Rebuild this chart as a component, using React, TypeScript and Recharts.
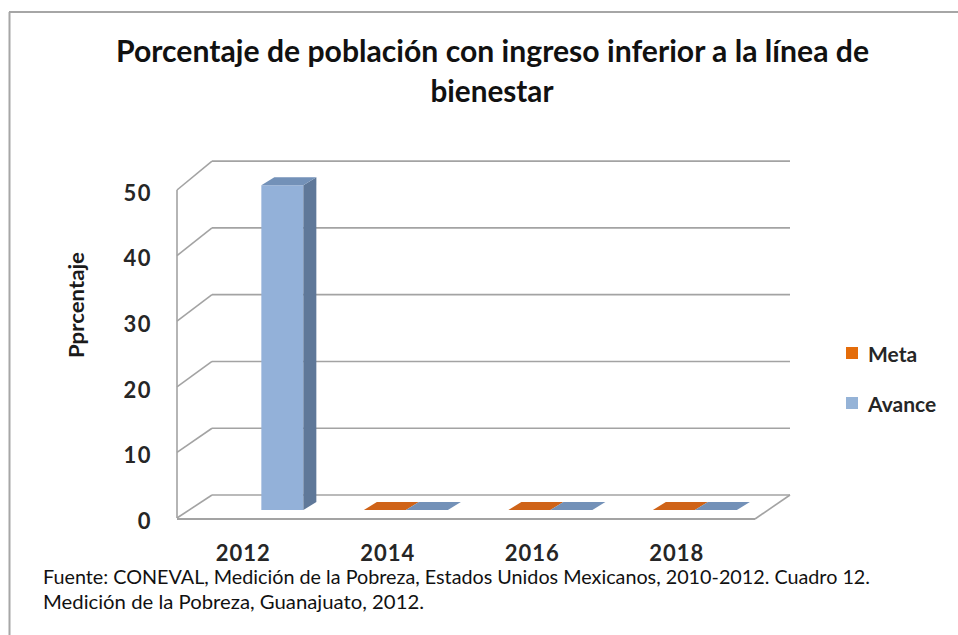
import React from 'react';
import { BarChart, Bar, XAxis, YAxis, CartesianGrid, Legend } from 'recharts';

const categories = ['2012', '2014', '2016', '2018'];
const metaValues: (number | null)[] = [null, 0, 0, 0];
const avanceValues: (number | null)[] = [49.5, 0, 0, 0];
const yTicks = [0, 10, 20, 30, 40, 50];
const legendOrder = ['Meta', 'Avance'];

const data = categories.map((c, i) => ({ year: c, meta: metaValues[i], avance: avanceValues[i] }));

const W = 958;
const H = 635;
const PLOT_LEFT = 177;
const PLOT_TOP = 190;
const PLOT_RIGHT = 755;
const PLOT_BOTTOM = 518;
const BACK_DX = 35;
const BACK_BOTTOM = 495;
const PERSP = 1.018;
const BAR_DX = 12;
const BAR_DY = -8;
const DEPTH_X = 13;
const DEPTH_Y = 8;
const GRID = '#a3a3a3';
const FONT = 'Lato, "Open Sans", sans-serif';

const makeShape = (key: string, front: string, side: string, top: string) => (props: any) => {
  const { x, y, width, height, payload } = props;
  if (!payload || payload[key] == null) return <g />;
  const X = x + BAR_DX;
  const Y = y + BAR_DY;
  const w = width;
  const h = Math.max(0, height);
  return (
    <g>
      {h > 0 && <rect x={X} y={Y} width={w} height={h} fill={front} />}
      {h > 0 && (
        <polygon
          points={`${X + w},${Y} ${X + w + DEPTH_X},${Y - DEPTH_Y} ${X + w + DEPTH_X},${Y + h - DEPTH_Y} ${X + w},${Y + h}`}
          fill={side}
        />
      )}
      <polygon
        points={`${X},${Y} ${X + DEPTH_X},${Y - DEPTH_Y} ${X + w + DEPTH_X},${Y - DEPTH_Y} ${X + w},${Y}`}
        fill={top}
      />
    </g>
  );
};

const gridLine = (p: any) => {
  const { x1, x2, y1, index } = p;
  const backY = BACK_BOTTOM - (PLOT_BOTTOM - y1) * PERSP;
  const bx1 = x1 + BACK_DX;
  const bx2 = x2 + BACK_DX;
  const isBottom = Math.abs(y1 - PLOT_BOTTOM) < 1;
  return (
    <g key={`grid-${index}-${y1}`} stroke={GRID} strokeWidth={1.6} fill="none">
      <line x1={x1} y1={y1} x2={bx1} y2={backY} />
      <line x1={bx1} y1={backY} x2={bx2} y2={backY} />
      {isBottom && <line x1={x1} y1={y1 + 1} x2={x2} y2={y1 + 1} strokeWidth={2} />}
      {isBottom && <line x1={x2} y1={y1 + 1} x2={bx2} y2={backY} />}
    </g>
  );
};

const YTick = (props: any) => {
  const { x, y, payload } = props;
  return (
    <text x={x} y={y + 3} dy="0.35em" textAnchor="end" fontFamily={FONT} fontWeight={700} fontSize={22} letterSpacing={1.5} fill="#262626">
      {payload.value}
    </text>
  );
};

const XTick = (props: any) => {
  const { x, y, payload } = props;
  return (
    <text x={x - 6} y={y + 35} dy="0.35em" textAnchor="middle" fontFamily={FONT} fontWeight={700} fontSize={22} letterSpacing={1} fill="#262626">
      {payload.value}
    </text>
  );
};

const LegendContent = (props: any) => {
  const items = [...(props.payload || [])].sort(
    (a: any, b: any) => legendOrder.indexOf(a.value) - legendOrder.indexOf(b.value)
  );
  return (
    <div style={{ fontFamily: FONT }}>
      {items.map((it: any, i: number) => (
        <div key={i} style={{ display: 'flex', alignItems: 'center', height: 26, marginBottom: i === 0 ? 24 : 0 }}>
          <span style={{ display: 'inline-block', width: 12, height: 12, background: it.color, marginRight: 10 }} />
          <span style={{ fontSize: 21, fontWeight: 700, color: '#262626' }}>{it.value}</span>
        </div>
      ))}
    </div>
  );
};

export default function App() {
  return (
    <div style={{ position: 'absolute', left: 0, top: 0, width: W, height: H, background: '#fff' }}>
      <BarChart
        width={W}
        height={H}
        data={data}
        margin={{ top: PLOT_TOP, right: W - PLOT_RIGHT, bottom: H - PLOT_BOTTOM - 40, left: 0 }}
        barCategoryGap="21%"
        barGap={0}
      >
        <CartesianGrid vertical={false} horizontal={gridLine} />
        <XAxis dataKey="year" axisLine={false} tickLine={false} tickSize={0} tickMargin={0} height={40} tick={<XTick />} interval={0} />
        <YAxis
          domain={[0, 50]}
          ticks={yTicks}
          width={PLOT_LEFT}
          axisLine={{ stroke: GRID, strokeWidth: 1.6 }}
          tickLine={false}
          tickSize={0}
          tickMargin={25}
          tick={<YTick />}
          interval={0}
        />
        <Legend
          layout="vertical"
          align="center"
          verticalAlign="middle"
          content={<LegendContent />}
          wrapperStyle={{ left: 846, top: 340, width: 112 }}
        />
        <Bar dataKey="meta" name="Meta" fill="#e46c0a" isAnimationActive={false} shape={makeShape('meta', '#e46c0a', '#a94f08', '#cf6318')} />
        <Bar dataKey="avance" name="Avance" fill="#95b3d7" isAnimationActive={false} shape={makeShape('avance', '#93b1d9', '#5f7899', '#7391b8')} />
      </BarChart>
      <svg width={W} height={H} style={{ position: 'absolute', left: 0, top: 0, pointerEvents: 'none' }}>
        <line x1={9.5} y1={12} x2={9.5} y2={H} stroke="#a6a6a6" strokeWidth={2} />
        <line x1={9} y1={12} x2={W} y2={12} stroke="#a6a6a6" strokeWidth={2} />
        <text x={116} y={62} textLength={753} lengthAdjust="spacingAndGlyphs" fontFamily={FONT} fontWeight={700} fontSize={30} fill="#111">
          Porcentaje de población con ingreso inferior a la línea de
        </text>
        <text x={492} y={102} textAnchor="middle" textLength={123} lengthAdjust="spacingAndGlyphs" fontFamily={FONT} fontWeight={700} fontSize={30} fill="#111">
          bienestar
        </text>
        <text transform="translate(84,305) rotate(-90)" textAnchor="middle" textLength={106} lengthAdjust="spacingAndGlyphs" fontFamily={FONT} fontWeight={700} fontSize={20} fill="#1a1a1a">
          Pprcentaje
        </text>
        <text x={43} y={584} textLength={827} lengthAdjust="spacingAndGlyphs" fontFamily={FONT} fontWeight={400} fontSize={19} fill="#111">
          Fuente: CONEVAL, Medición de la Pobreza, Estados Unidos Mexicanos, 2010-2012. Cuadro 12.
        </text>
        <text x={43} y={609} textLength={381} lengthAdjust="spacingAndGlyphs" fontFamily={FONT} fontWeight={400} fontSize={19} fill="#111">
          Medición de la Pobreza, Guanajuato, 2012.
        </text>
      </svg>
    </div>
  );
}
